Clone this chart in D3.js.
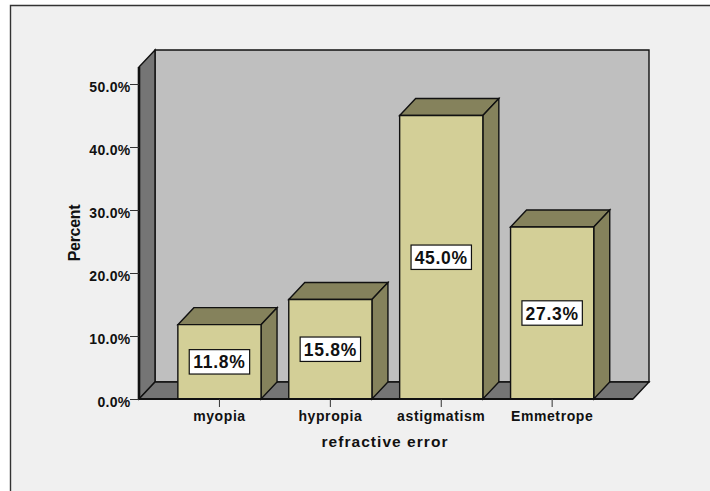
<!DOCTYPE html>
<html><head><meta charset="utf-8">
<script src="https://cdn.jsdelivr.net/npm/d3@7/dist/d3.min.js"></script>
<style>
html,body{margin:0;padding:0;background:#fff;overflow:hidden}
svg{display:block}
text{font-family:"Liberation Sans",Arial,sans-serif;font-weight:bold;fill:#111}
</style></head><body><svg id="c" width="710" height="491"></svg>
<script>
const categories = ["myopia","hypropia","astigmatism","Emmetrope"];
const percents = [11.8,15.8,45.0,27.3];
const yTicks = [0,10,20,30,40,50];
const xTitle = "refractive error";
const yTitle = "Percent";

const W=710,H=491,dx=16,dy=17;
const y=d3.scaleLinear().domain([0,50]).range([399,84]);
const x=d3.scaleBand().domain(categories).range([164,607.6]).paddingInner(.25).paddingOuter(.125);
const svg=d3.select("#c");
const FRONT="#d3cf97",SHADE="#85825c",WALL="#bfbfbf",DARK="#757575",INK="#111";
const pl=139,pr=633,pt=67,pb=y(0);

svg.append("rect").attr("x",10).attr("y",5).attr("width",W-10).attr("height",H-5).attr("fill","#f0f0f0");
svg.append("path").attr("d",`M10.5,${H}V5.5H${W}`).attr("fill","none").attr("stroke","#333").attr("stroke-width",1.4);

const poly=(pts,fill,sw=1.4)=>svg.append("polygon").attr("points",pts.map(p=>p.join(",")).join(" "))
  .attr("fill",fill).attr("stroke",INK).attr("stroke-width",sw).attr("stroke-linejoin","miter");
poly([[pl+dx,pt-dy],[pr+dx,pt-dy],[pr+dx,pb-dy],[pl+dx,pb-dy]],WALL);
poly([[pl,pt],[pl+dx,pt-dy],[pl+dx,pb-dy],[pl,pb]],DARK);
poly([[pl,pb],[pl+dx,pb-dy],[pr+dx,pb-dy],[pr,pb]],DARK);

categories.forEach((c,i)=>{
  const x0=x(c),x1=x0+x.bandwidth(),yt=y(percents[i]);
  poly([[x0,yt],[x0+dx,yt-dy],[x1+dx,yt-dy],[x1,yt]],SHADE);
  poly([[x1,yt],[x1+dx,yt-dy],[x1+dx,pb-dy],[x1,pb]],SHADE);
  poly([[x0,yt],[x1,yt],[x1,pb],[x0,pb]],FRONT);
});

svg.append("line").attr("x1",pl).attr("x2",pl).attr("y1",pt).attr("y2",pb).attr("stroke",INK).attr("stroke-width",2.6);
svg.append("line").attr("x1",pl).attr("x2",pr).attr("y1",pb).attr("y2",pb).attr("stroke",INK).attr("stroke-width",2);

const ya=svg.append("g").attr("transform",`translate(${pl},0)`)
  .call(d3.axisLeft(y).tickValues(yTicks).tickFormat(d=>d3.format(".1f")(d)+"%").tickSize(9).tickPadding(0));
ya.select(".domain").remove();
ya.selectAll("line").attr("stroke","#333").attr("stroke-width",1);
ya.selectAll("text").attr("font-size",14).attr("letter-spacing",.3).attr("fill",INK)
  .attr("font-family","Liberation Sans").attr("font-weight","bold").attr("x",-8.5).attr("dy",7);

const xa=svg.append("g").attr("transform",`translate(0,${pb})`)
  .call(d3.axisBottom(x).tickSize(8).tickPadding(0));
xa.select(".domain").remove();
xa.selectAll("line").attr("stroke","#333").attr("stroke-width",1);
xa.selectAll("text").attr("font-size",14).attr("letter-spacing",.6).attr("fill",INK)
  .attr("font-family","Liberation Sans").attr("font-weight","bold").attr("y",11.5).attr("dy",0).attr("dominant-baseline","hanging");

svg.append("text").attr("x",385).attr("y",447).attr("text-anchor","middle").attr("font-size",15.5).attr("letter-spacing",1.05).text(xTitle);
svg.append("text").attr("transform","translate(79.5,233) rotate(-90)").attr("text-anchor","middle").attr("font-size",16).attr("letter-spacing",-.3).text(yTitle);

categories.forEach((c,i)=>{
  const cx=x(c)+x.bandwidth()/2, cy=(y(percents[i])+pb)/2;
  svg.append("rect").attr("x",cx-30.2).attr("y",cy-12.2).attr("width",60.4).attr("height",24.4)
    .attr("fill","#fff").attr("stroke",INK).attr("stroke-width",1.2);
  svg.append("text").attr("x",cx).attr("y",cy+6.5).attr("text-anchor","middle").attr("font-size",17.5).attr("letter-spacing",.7)
    .text(d3.format(".1f")(percents[i])+"%");
});
</script></body></html>
